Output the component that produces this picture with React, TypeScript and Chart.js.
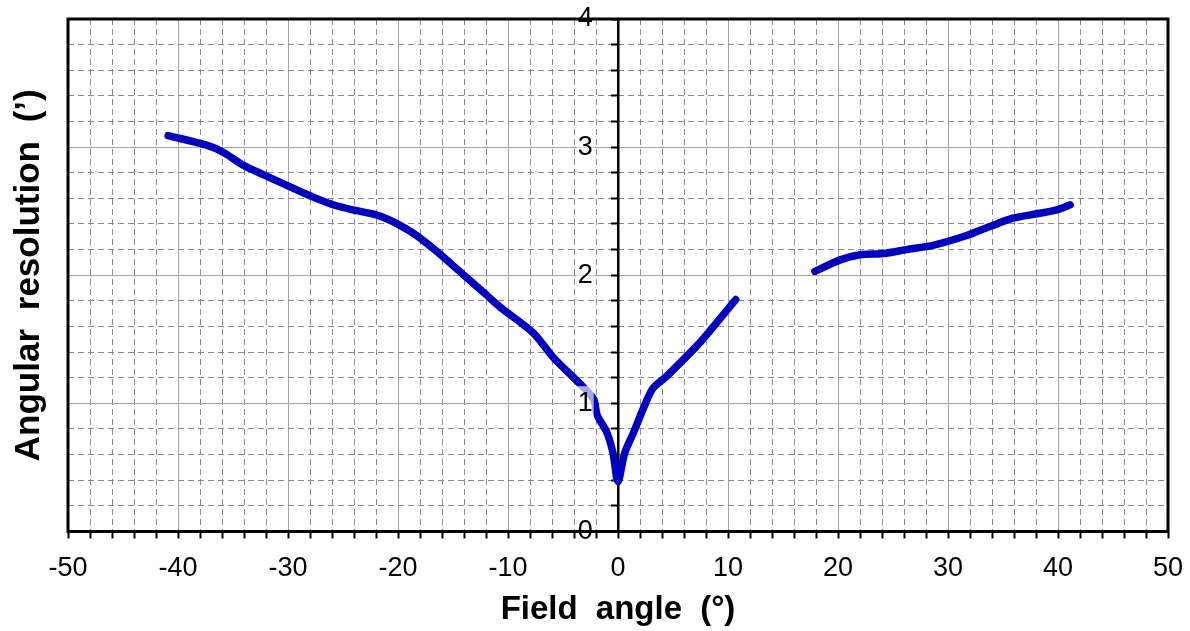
import React, { useEffect, useRef } from 'react';
import { Chart, registerables } from 'chart.js';

Chart.register(...registerables);

// Field angle (deg) and angular resolution (arcmin) – left branch through the centre
const branch1Angle = [-40.9, -37.4, -35.9, -34.1, -32.1, -29.8, -27.7, -25.9, -24.1, -21.9, -20.5, -18.3, -16.4, -14.0, -12.0, -10.7, -7.7, -5.9, -3.2, -2.2, -1.9, -1.0, -0.45, 0, 0.6, 1.4, 2.5, 3.2, 4.4, 7.5, 10.7];
const branch1Res = [3.09, 3.015, 2.96, 2.86, 2.78, 2.69, 2.61, 2.55, 2.51, 2.47, 2.42, 2.31, 2.18, 2.0, 1.85, 1.75, 1.55, 1.36, 1.13, 1.03, 0.91, 0.77, 0.61, 0.39, 0.61, 0.77, 1.0, 1.12, 1.21, 1.48, 1.81];

// Right outer branch
const branch2Angle = [17.9, 20.2, 22.0, 24.1, 26.2, 28.7, 31.7, 33.8, 35.9, 38.1, 39.9, 41.1];
const branch2Res = [2.03, 2.12, 2.16, 2.17, 2.2, 2.235, 2.31, 2.38, 2.445, 2.48, 2.51, 2.55];

const xMin = -50;
const xMax = 50;
const xMajorStep = 10;
const xMinorStep = 2;
const yMin = 0;
const yMax = 4;
const yMajorStep = 1;
const yMinorStep = 0.2;

const xAxisTitle = 'Field angle (°)';
const yAxisTitle = 'Angular resolution (’)';

const FONT = "'Liberation Sans', Arial, sans-serif";
const LINE_COLOR = '#0000BF';
const MAJOR_GRID = '#a3a3a3';
const MINOR_GRID = '#8a8a8a';
const TRANSPARENT = 'rgba(0,0,0,0)';

const isMultiple = (v: number, step: number) => Math.abs(v / step - Math.round(v / step)) < 1e-6;

const framePlugin = {
  id: 'frame',
  beforeDraw(chart: any) {
    (chart.ctx as any).wordSpacing = '9px';
  },
  afterDraw(chart: any) {
    const { ctx, chartArea } = chart;
    const { left, top, right, bottom } = chartArea;
    ctx.save();
    ctx.strokeStyle = '#000';
    ctx.lineWidth = 3;
    ctx.strokeRect(left, top, right - left, bottom - top);
    ctx.restore();
    (ctx as any).wordSpacing = '0px';
  },
};

export default function App() {
  const canvasRef = useRef<HTMLCanvasElement | null>(null);

  useEffect(() => {
    if (!canvasRef.current) return;
    const data1 = branch1Angle.map((a, i) => ({ x: a, y: branch1Res[i] }));
    const data2 = branch2Angle.map((a, i) => ({ x: a, y: branch2Res[i] }));

    const lineStyle = {
      borderColor: LINE_COLOR,
      backgroundColor: LINE_COLOR,
      borderWidth: 7.5,
      pointRadius: 0,
      pointHoverRadius: 0,
      tension: 0.3,
      borderCapStyle: 'round' as const,
      borderJoinStyle: 'round' as const,
      fill: false,
    };

    const chart = new Chart(canvasRef.current, {
      type: 'line',
      data: {
        datasets: [
          { label: 'left', data: data1, ...lineStyle },
          { label: 'right', data: data2, ...lineStyle },
        ],
      },
      options: {
        animation: false,
        responsive: true,
        maintainAspectRatio: false,
        layout: { padding: { top: 19, right: 22, left: 0, bottom: 0 } },
        plugins: {
          legend: { display: false },
          tooltip: { enabled: false },
        },
        scales: {
          x: {
            type: 'linear',
            position: 'bottom',
            min: xMin,
            max: xMax,
            ticks: {
              stepSize: xMinorStep,
              autoSkip: false,
              maxRotation: 0,
              minRotation: 0,
              padding: 5,
              color: '#000',
              font: { size: 27, family: FONT, lineHeight: 1.852 },
              callback: (v: any) => (isMultiple(Number(v), xMajorStep) ? String(v) : ''),
            },
            grid: {
              color: (ctx: any) =>
                ctx.tick && isMultiple(ctx.tick.value, xMajorStep) ? MAJOR_GRID : TRANSPARENT,
              lineWidth: 1,
              drawTicks: true,
              tickColor: '#000',
              tickLength: 7,
              tickWidth: 2,
            },
            border: { display: true, color: '#000', width: 2 },
            title: {
              display: true,
              text: xAxisTitle,
              color: '#000',
              font: { size: 33, weight: 'bold', family: FONT },
              padding: { top: -8.5, bottom: 1.4 },
            },
          },
          xMinor: {
            type: 'linear',
            position: 'bottom',
            min: xMin,
            max: xMax,
            ticks: { display: false, stepSize: xMinorStep, autoSkip: false },
            grid: {
              color: (ctx: any) =>
                ctx.tick && !isMultiple(ctx.tick.value, xMajorStep) ? MINOR_GRID : TRANSPARENT,
              lineWidth: 1,
              drawTicks: false,
            },
            border: { display: false, dash: [6, 4] },
          },
          yLeft: {
            type: 'linear',
            position: 'left',
            min: yMin,
            max: yMax,
            ticks: { display: false, stepSize: yMinorStep, autoSkip: false },
            grid: {
              color: (ctx: any) =>
                ctx.tick && !isMultiple(ctx.tick.value, yMajorStep) ? MINOR_GRID : TRANSPARENT,
              lineWidth: 1,
              drawTicks: false,
            },
            border: { display: false, dash: [6, 4] },
            title: {
              display: true,
              text: yAxisTitle,
              color: '#000',
              font: { size: 35, weight: 'bold', family: FONT },
              padding: { top: 8.2, bottom: 17.8 },
            },
          },
          y: {
            type: 'linear',
            position: { x: 0 } as any,
            min: yMin,
            max: yMax,
            ticks: { display: false, stepSize: yMinorStep, autoSkip: false },
            grid: {
              color: (ctx: any) =>
                ctx.tick && isMultiple(ctx.tick.value, yMajorStep) ? MAJOR_GRID : TRANSPARENT,
              lineWidth: 1,
              drawTicks: true,
              tickColor: '#000',
              tickLength: 6,
              tickWidth: 2,
            },
            border: { display: true, color: '#000', width: 2.5 },
          },
          yLabels: {
            type: 'linear',
            position: { x: -2.3 } as any,
            min: yMin,
            max: yMax,
            ticks: {
              stepSize: yMajorStep,
              autoSkip: false,
              padding: 0,
              color: '#000',
              font: { size: 27, family: FONT },
              z: 1,
              showLabelBackdrop: true,
              backdropColor: 'rgba(255,255,255,0.65)',
              backdropPadding: 1,
              callback: (v: any) => String(Math.round(Number(v))),
            },
            grid: { display: false },
            border: { display: false },
          },
        } as any,
      },
      plugins: [framePlugin],
    });

    return () => {
      chart.destroy();
    };
  }, []);

  return (
    <div style={{ position: 'fixed', left: 0, top: 0, width: 1190, height: 631, background: '#fff' }}>
      <canvas ref={canvasRef} />
    </div>
  );
}
